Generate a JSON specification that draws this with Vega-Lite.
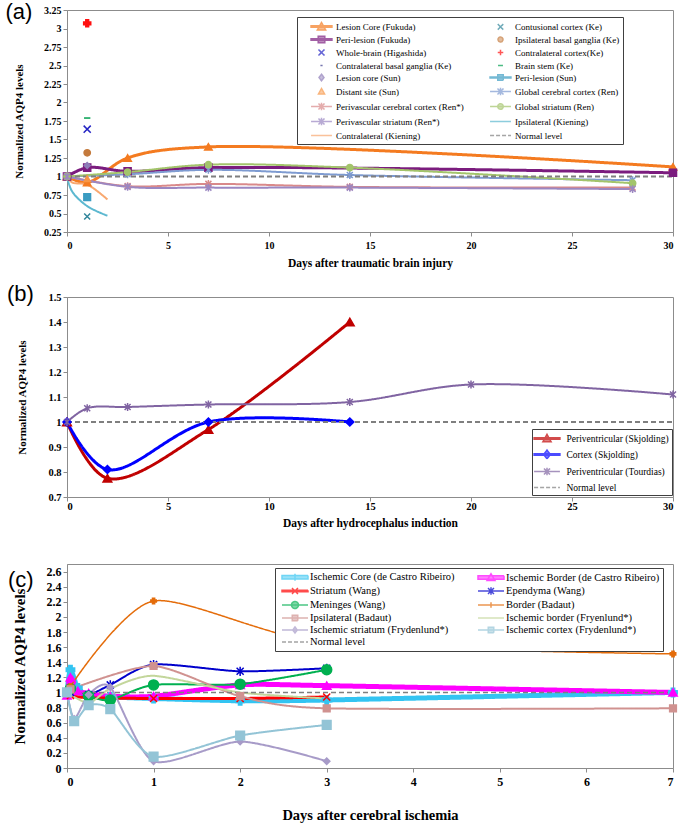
{
  "$schema": "https://vega.github.io/schema/vega-lite/v6.json",
  "padding": {"left": 5, "top": 0, "right": 4, "bottom": 2},
  "background": "white",
  "spacing": 13,
  "config": {
    "view": {"stroke": "#8c8c8c", "strokeWidth": 1},
    "axis": {"grid": false, "labelFont": "Liberation Serif", "titleFont": "Liberation Serif", "labelFontWeight": "bold", "titleFontWeight": "bold", "labelColor": "#000", "titleColor": "#000", "domainColor": "#8c8c8c", "tickColor": "#8c8c8c", "tickSize": 4, "labelPadding": 2},
    "legend": {"labelFont": "Liberation Serif", "labelColor": "#000", "strokeColor": "#404040", "fillColor": "#ffffff", "labelLimit": 400, "symbolStrokeWidth": 1.5},
    "title": {"font": "Liberation Sans", "fontSize": 22, "fontWeight": "normal", "anchor": "start", "frame": "bounds", "color": "#000"}
  },
  "datasets": {
    "a": [
      {"s": "Lesion Core (Fukuda)", "x": 0, "y": 1},
      {"s": "Lesion Core (Fukuda)", "x": 1, "y": 0.92},
      {"s": "Lesion Core (Fukuda)", "x": 3, "y": 1.25},
      {"s": "Lesion Core (Fukuda)", "x": 7, "y": 1.4},
      {"s": "Lesion Core (Fukuda)", "x": 30, "y": 1.13},
      {"s": "Peri-lesion (Fukuda)", "x": 0, "y": 1},
      {"s": "Peri-lesion (Fukuda)", "x": 1, "y": 1.12},
      {"s": "Peri-lesion (Fukuda)", "x": 3, "y": 1.07},
      {"s": "Peri-lesion (Fukuda)", "x": 7, "y": 1.12},
      {"s": "Peri-lesion (Fukuda)", "x": 30, "y": 1.05},
      {"s": "Contusional cortex (Ke)", "x": 1, "y": 0.46},
      {"s": "Ipsilateral basal ganglia (Ke)", "x": 1, "y": 1.32},
      {"s": "Whole-brain (Higashida)", "x": 1, "y": 1.64},
      {"s": "Contralateral cortex(Ke)", "x": 1, "y": 3.07},
      {"s": "Contralateral basal ganglia (Ke)", "x": 1, "y": 1.14},
      {"s": "Brain stem (Ke)", "x": 1, "y": 1.79},
      {"s": "Lesion core (Sun)", "x": 1, "y": 1.15},
      {"s": "Peri-lesion (Sun)", "x": 1, "y": 0.72},
      {"s": "Distant site (Sun)", "x": 1, "y": 0.97},
      {"s": "Global cerebral cortex (Ren)", "x": 0, "y": 1},
      {"s": "Global cerebral cortex (Ren)", "x": 3, "y": 1.03},
      {"s": "Global cerebral cortex (Ren)", "x": 7, "y": 1.09},
      {"s": "Global cerebral cortex (Ren)", "x": 14, "y": 1.02},
      {"s": "Global cerebral cortex (Ren)", "x": 28, "y": 0.95},
      {"s": "Perivascular cerebral cortex (Ren*)", "x": 0, "y": 1},
      {"s": "Perivascular cerebral cortex (Ren*)", "x": 3, "y": 0.87},
      {"s": "Perivascular cerebral cortex (Ren*)", "x": 7, "y": 0.9},
      {"s": "Perivascular cerebral cortex (Ren*)", "x": 14, "y": 0.86},
      {"s": "Perivascular cerebral cortex (Ren*)", "x": 28, "y": 0.85},
      {"s": "Global striatum (Ren)", "x": 0, "y": 1},
      {"s": "Global striatum (Ren)", "x": 3, "y": 1.06},
      {"s": "Global striatum (Ren)", "x": 7, "y": 1.16},
      {"s": "Global striatum (Ren)", "x": 14, "y": 1.12},
      {"s": "Global striatum (Ren)", "x": 28, "y": 0.91},
      {"s": "Perivascular striatum (Ren*)", "x": 0, "y": 1},
      {"s": "Perivascular striatum (Ren*)", "x": 3, "y": 0.86},
      {"s": "Perivascular striatum (Ren*)", "x": 7, "y": 0.85},
      {"s": "Perivascular striatum (Ren*)", "x": 14, "y": 0.85},
      {"s": "Perivascular striatum (Ren*)", "x": 28, "y": 0.83},
      {"s": "Ipsilateral (Kiening)", "x": 0, "y": 1},
      {"s": "Ipsilateral (Kiening)", "x": 0.25, "y": 0.8},
      {"s": "Ipsilateral (Kiening)", "x": 1, "y": 0.6},
      {"s": "Ipsilateral (Kiening)", "x": 2, "y": 0.47},
      {"s": "Contralateral (Kiening)", "x": 0, "y": 1},
      {"s": "Contralateral (Kiening)", "x": 0.25, "y": 0.92},
      {"s": "Contralateral (Kiening)", "x": 1, "y": 0.89},
      {"s": "Contralateral (Kiening)", "x": 2, "y": 0.69},
      {"s": "Normal level", "x": 0, "y": 1},
      {"s": "Normal level", "x": 30, "y": 1}
    ],
    "b": [
      {"s": "Periventricular (Skjolding)", "x": 0, "y": 1},
      {"s": "Periventricular (Skjolding)", "x": 2, "y": 0.775},
      {"s": "Periventricular (Skjolding)", "x": 7, "y": 0.97},
      {"s": "Periventricular (Skjolding)", "x": 14, "y": 1.4},
      {"s": "Cortex (Skjolding)", "x": 0, "y": 1},
      {"s": "Cortex (Skjolding)", "x": 2, "y": 0.81},
      {"s": "Cortex (Skjolding)", "x": 7, "y": 1.0},
      {"s": "Cortex (Skjolding)", "x": 14, "y": 1.0},
      {"s": "Periventricular (Tourdias)", "x": 0, "y": 1},
      {"s": "Periventricular (Tourdias)", "x": 1, "y": 1.055},
      {"s": "Periventricular (Tourdias)", "x": 3, "y": 1.06},
      {"s": "Periventricular (Tourdias)", "x": 7, "y": 1.07},
      {"s": "Periventricular (Tourdias)", "x": 14, "y": 1.08},
      {"s": "Periventricular (Tourdias)", "x": 20, "y": 1.15},
      {"s": "Periventricular (Tourdias)", "x": 30, "y": 1.11},
      {"s": "Normal level", "x": 0, "y": 1},
      {"s": "Normal level", "x": 30, "y": 1}
    ],
    "c": [
      {"s": "Ischemic Core (de Castro Ribeiro)", "x": 0, "y": 1.0},
      {"s": "Ischemic Core (de Castro Ribeiro)", "x": 0.04, "y": 1.3},
      {"s": "Ischemic Core (de Castro Ribeiro)", "x": 0.125, "y": 1.06},
      {"s": "Ischemic Core (de Castro Ribeiro)", "x": 0.25, "y": 0.96},
      {"s": "Ischemic Core (de Castro Ribeiro)", "x": 0.5, "y": 0.94},
      {"s": "Ischemic Core (de Castro Ribeiro)", "x": 1, "y": 0.92},
      {"s": "Ischemic Core (de Castro Ribeiro)", "x": 2, "y": 0.89},
      {"s": "Ischemic Core (de Castro Ribeiro)", "x": 3, "y": 0.9},
      {"s": "Ischemic Core (de Castro Ribeiro)", "x": 7, "y": 1.0},
      {"s": "Ischemic Border (de Castro Ribeiro)", "x": 0, "y": 0.96},
      {"s": "Ischemic Border (de Castro Ribeiro)", "x": 0.04, "y": 1.2},
      {"s": "Ischemic Border (de Castro Ribeiro)", "x": 0.125, "y": 1.02},
      {"s": "Ischemic Border (de Castro Ribeiro)", "x": 0.25, "y": 0.99},
      {"s": "Ischemic Border (de Castro Ribeiro)", "x": 0.5, "y": 0.95},
      {"s": "Ischemic Border (de Castro Ribeiro)", "x": 1, "y": 0.95},
      {"s": "Ischemic Border (de Castro Ribeiro)", "x": 2, "y": 1.1},
      {"s": "Ischemic Border (de Castro Ribeiro)", "x": 3, "y": 1.09},
      {"s": "Ischemic Border (de Castro Ribeiro)", "x": 7, "y": 1.0},
      {"s": "Striatum (Wang)", "x": 0.04, "y": 0.96},
      {"s": "Striatum (Wang)", "x": 0.25, "y": 0.93},
      {"s": "Striatum (Wang)", "x": 1, "y": 0.92},
      {"s": "Striatum (Wang)", "x": 2, "y": 0.92},
      {"s": "Striatum (Wang)", "x": 3, "y": 0.94},
      {"s": "Ependyma (Wang)", "x": 0.04, "y": 1.0},
      {"s": "Ependyma (Wang)", "x": 0.25, "y": 0.97},
      {"s": "Ependyma (Wang)", "x": 0.5, "y": 1.1},
      {"s": "Ependyma (Wang)", "x": 1, "y": 1.37},
      {"s": "Ependyma (Wang)", "x": 2, "y": 1.28},
      {"s": "Ependyma (Wang)", "x": 3, "y": 1.32},
      {"s": "Meninges (Wang)", "x": 0.04, "y": 1.05},
      {"s": "Meninges (Wang)", "x": 0.25, "y": 0.95},
      {"s": "Meninges (Wang)", "x": 0.5, "y": 0.9},
      {"s": "Meninges (Wang)", "x": 1, "y": 1.1},
      {"s": "Meninges (Wang)", "x": 2, "y": 1.11},
      {"s": "Meninges (Wang)", "x": 3, "y": 1.3},
      {"s": "Border (Badaut)", "x": 0.04, "y": 1.08},
      {"s": "Border (Badaut)", "x": 1, "y": 2.21},
      {"s": "Border (Badaut)", "x": 3, "y": 1.65},
      {"s": "Border (Badaut)", "x": 7, "y": 1.51},
      {"s": "Ipsilateral (Badaut)", "x": 0.04, "y": 1.04},
      {"s": "Ipsilateral (Badaut)", "x": 1, "y": 1.35},
      {"s": "Ipsilateral (Badaut)", "x": 2, "y": 0.95},
      {"s": "Ipsilateral (Badaut)", "x": 3, "y": 0.79},
      {"s": "Ipsilateral (Badaut)", "x": 7, "y": 0.79},
      {"s": "Ischemic border (Fryenlund*)", "x": 0, "y": 1},
      {"s": "Ischemic border (Fryenlund*)", "x": 0.25, "y": 0.86},
      {"s": "Ischemic border (Fryenlund*)", "x": 0.5, "y": 1.05},
      {"s": "Ischemic border (Fryenlund*)", "x": 1, "y": 1.22},
      {"s": "Ischemic border (Fryenlund*)", "x": 2, "y": 1.0},
      {"s": "Ischemic border (Fryenlund*)", "x": 3, "y": 0.92},
      {"s": "Ischemic striatum (Frydenlund*)", "x": 0, "y": 1},
      {"s": "Ischemic striatum (Frydenlund*)", "x": 0.083, "y": 0.65},
      {"s": "Ischemic striatum (Frydenlund*)", "x": 0.25, "y": 0.97},
      {"s": "Ischemic striatum (Frydenlund*)", "x": 0.5, "y": 1.07},
      {"s": "Ischemic striatum (Frydenlund*)", "x": 1, "y": 0.09},
      {"s": "Ischemic striatum (Frydenlund*)", "x": 2, "y": 0.35},
      {"s": "Ischemic striatum (Frydenlund*)", "x": 3, "y": 0.09},
      {"s": "Ischemic cortex (Frydenlund*)", "x": 0, "y": 1},
      {"s": "Ischemic cortex (Frydenlund*)", "x": 0.083, "y": 0.62},
      {"s": "Ischemic cortex (Frydenlund*)", "x": 0.25, "y": 0.83},
      {"s": "Ischemic cortex (Frydenlund*)", "x": 0.5, "y": 0.78},
      {"s": "Ischemic cortex (Frydenlund*)", "x": 1, "y": 0.15},
      {"s": "Ischemic cortex (Frydenlund*)", "x": 2, "y": 0.43},
      {"s": "Ischemic cortex (Frydenlund*)", "x": 3, "y": 0.57},
      {"s": "Normal level", "x": 0, "y": 1},
      {"s": "Normal level", "x": 7, "y": 1}
    ]
  },
  "vconcat": [
    {
      "width": 606, "height": 222,
      "title": {"text": "(a)", "offset": -19, "dx": -8},
      "data": {"name": "a"},
      "resolve": {"scale": {"stroke": "independent", "fill": "independent", "shape": "independent", "size": "independent", "strokeWidth": "independent", "strokeDash": "independent"}},
      "encoding": {
        "x": {"field": "x", "type": "quantitative", "scale": {"domain": [0, 30], "nice": false, "zero": false},
              "axis": {"values": [0, 5, 10, 15, 20, 25, 30], "title": "Days after traumatic brain injury", "labelFontSize": 10, "titleFontSize": 11.5, "labelPadding": 4, "titlePadding": 7}},
        "y": {"field": "y", "type": "quantitative", "scale": {"domain": [0.25, 3.25], "nice": false, "zero": false},
              "axis": {"values": [0.25, 0.5, 0.75, 1, 1.25, 1.5, 1.75, 2, 2.25, 2.5, 2.75, 3, 3.25], "labelExpr": "'' + datum.value", "title": "Normalized AQP4 levels", "labelFontSize": 10, "titleFontSize": 11, "titlePadding": 19}}
      },
      "layer": [
        {
          "transform": [{"filter": {"field": "s", "oneOf": ["Lesion Core (Fukuda)", "Peri-lesion (Fukuda)", "Global cerebral cortex (Ren)", "Perivascular cerebral cortex (Ren*)", "Global striatum (Ren)", "Perivascular striatum (Ren*)", "Ipsilateral (Kiening)", "Contralateral (Kiening)", "Normal level"]}}],
          "mark": {"type": "line", "interpolate": "catmull-rom"},
          "encoding": {
            "stroke": {"field": "s", "type": "nominal", "legend": null, "scale": {"domain": ["Lesion Core (Fukuda)", "Peri-lesion (Fukuda)", "Global cerebral cortex (Ren)", "Perivascular cerebral cortex (Ren*)", "Global striatum (Ren)", "Perivascular striatum (Ren*)", "Ipsilateral (Kiening)", "Contralateral (Kiening)", "Normal level"], "range": ["#F47B20", "#7B1C7E", "#7E9BD1", "#D9898A", "#A3C46B", "#9B87C2", "#5CB8D0", "#F8A870", "#7F7F7F"]}},
            "strokeWidth": {"field": "s", "type": "nominal", "legend": null, "scale": {"type": "ordinal", "domain": ["Lesion Core (Fukuda)", "Peri-lesion (Fukuda)", "Global cerebral cortex (Ren)", "Perivascular cerebral cortex (Ren*)", "Global striatum (Ren)", "Perivascular striatum (Ren*)", "Ipsilateral (Kiening)", "Contralateral (Kiening)", "Normal level"], "range": [3, 3, 2, 2, 2, 2, 2, 2, 2]}},
            "strokeDash": {"field": "s", "type": "nominal", "legend": null, "scale": {"domain": ["Lesion Core (Fukuda)", "Peri-lesion (Fukuda)", "Global cerebral cortex (Ren)", "Perivascular cerebral cortex (Ren*)", "Global striatum (Ren)", "Perivascular striatum (Ren*)", "Ipsilateral (Kiening)", "Contralateral (Kiening)", "Normal level"], "range": [[1, 0], [1, 0], [1, 0], [1, 0], [1, 0], [1, 0], [1, 0], [1, 0], [5, 3]]}}
          }
        },
        {
          "transform": [{"filter": {"field": "s", "oneOf": ["Lesion Core (Fukuda)", "Peri-lesion (Fukuda)", "Whole-brain (Higashida)", "Contralateral basal ganglia (Ke)", "Lesion core (Sun)", "Distant site (Sun)", "Perivascular cerebral cortex (Ren*)", "Perivascular striatum (Ren*)", "Contusional cortex (Ke)", "Ipsilateral basal ganglia (Ke)", "Contralateral cortex(Ke)", "Brain stem (Ke)", "Peri-lesion (Sun)", "Global cerebral cortex (Ren)", "Global striatum (Ren)"]}}],
          "mark": {"type": "point", "filled": true, "strokeWidth": 1.5, "opacity": 1},
          "encoding": {
            "fill": {"field": "s", "type": "nominal", "legend": null, "scale": {"domain": ["Lesion Core (Fukuda)", "Peri-lesion (Fukuda)", "Whole-brain (Higashida)", "Contralateral basal ganglia (Ke)", "Lesion core (Sun)", "Distant site (Sun)", "Perivascular cerebral cortex (Ren*)", "Perivascular striatum (Ren*)", "Contusional cortex (Ke)", "Ipsilateral basal ganglia (Ke)", "Contralateral cortex(Ke)", "Brain stem (Ke)", "Peri-lesion (Sun)", "Global cerebral cortex (Ren)", "Global striatum (Ren)"], "range": ["#F47B20", "#7B1C7E", "#2424C4", "#3C3C8C", "#8E7CB8", "#F79646", "#D9898A", "#9B87C2", "#31869B", "#C47A3C", "#FF1010", "#00A050", "#3B9CC2", "#7E9BD1", "#A3C46B"]}},
            "stroke": {"field": "s", "type": "nominal", "legend": null, "scale": {"domain": ["Lesion Core (Fukuda)", "Peri-lesion (Fukuda)", "Whole-brain (Higashida)", "Contralateral basal ganglia (Ke)", "Lesion core (Sun)", "Distant site (Sun)", "Perivascular cerebral cortex (Ren*)", "Perivascular striatum (Ren*)", "Contusional cortex (Ke)", "Ipsilateral basal ganglia (Ke)", "Contralateral cortex(Ke)", "Brain stem (Ke)", "Peri-lesion (Sun)", "Global cerebral cortex (Ren)", "Global striatum (Ren)"], "range": ["#F47B20", "#7B1C7E", "#2424C4", "#3C3C8C", "#8E7CB8", "#F79646", "#D9898A", "#9B87C2", "#31869B", "#C47A3C", "#FF1010", "#00A050", "#3B9CC2", "#7E9BD1", "#A3C46B"]}},
            "shape": {"field": "s", "type": "nominal", "legend": null, "scale": {"domain": ["Lesion Core (Fukuda)", "Peri-lesion (Fukuda)", "Whole-brain (Higashida)", "Contralateral basal ganglia (Ke)", "Lesion core (Sun)", "Distant site (Sun)", "Perivascular cerebral cortex (Ren*)", "Perivascular striatum (Ren*)", "Contusional cortex (Ke)", "Ipsilateral basal ganglia (Ke)", "Contralateral cortex(Ke)", "Brain stem (Ke)", "Peri-lesion (Sun)", "Global cerebral cortex (Ren)", "Global striatum (Ren)"], "range": ["triangle-up", "square", "M-1,-1L1,1M-1,1L1,-1", "M-1,0H1", "diamond", "triangle-up", "M-1,-1L1,1M-1,1L1,-1M0,-1.3V1.3", "M-1,-1L1,1M-1,1L1,-1M0,-1.3V1.3", "M-1,-1L1,1M-1,1L1,-1", "circle", "cross", "M-1,0H1", "square", "M-1,-1L1,1M-1,1L1,-1M0,-1.3V1.3", "circle"]}},
            "size": {"field": "s", "type": "nominal", "legend": null, "scale": {"type": "ordinal", "domain": ["Lesion Core (Fukuda)", "Peri-lesion (Fukuda)", "Whole-brain (Higashida)", "Contralateral basal ganglia (Ke)", "Lesion core (Sun)", "Distant site (Sun)", "Perivascular cerebral cortex (Ren*)", "Perivascular striatum (Ren*)", "Contusional cortex (Ke)", "Ipsilateral basal ganglia (Ke)", "Contralateral cortex(Ke)", "Brain stem (Ke)", "Peri-lesion (Sun)", "Global cerebral cortex (Ren)", "Global striatum (Ren)"], "range": [55, 50, 50, 16, 35, 40, 36, 36, 36, 40, 50, 40, 45, 36, 40]}}
          }
        },
        {
          "transform": [{"filter": "false"}],
          "mark": {"type": "point", "filled": true, "size": 121, "strokeWidth": 1.5},
          "encoding": {
            "fill": {"field": "s", "type": "nominal", "scale": {"domain": ["Lesion Core (Fukuda)", "Peri-lesion (Fukuda)", "Whole-brain (Higashida)", "Contralateral basal ganglia (Ke)", "Lesion core (Sun)", "Distant site (Sun)", "Perivascular cerebral cortex (Ren*)", "Perivascular striatum (Ren*)", "Contralateral (Kiening)", "Contusional cortex (Ke)", "Ipsilateral basal ganglia (Ke)", "Contralateral cortex(Ke)", "Brain stem (Ke)", "Peri-lesion (Sun)", "Global cerebral cortex (Ren)", "Global striatum (Ren)", "Ipsilateral (Kiening)", "Normal level"], "range": ["#F47B20", "#7B1C7E", "#2424C4", "#3C3C8C", "#8E7CB8", "#F79646", "#D9898A", "#9B87C2", "#F8A870", "#31869B", "#C47A3C", "#FF1010", "#00A050", "#3B9CC2", "#7E9BD1", "#A3C46B", "#5CB8D0", "#7F7F7F"]}},
            "stroke": {"field": "s", "type": "nominal", "scale": {"domain": ["Lesion Core (Fukuda)", "Peri-lesion (Fukuda)", "Whole-brain (Higashida)", "Contralateral basal ganglia (Ke)", "Lesion core (Sun)", "Distant site (Sun)", "Perivascular cerebral cortex (Ren*)", "Perivascular striatum (Ren*)", "Contralateral (Kiening)", "Contusional cortex (Ke)", "Ipsilateral basal ganglia (Ke)", "Contralateral cortex(Ke)", "Brain stem (Ke)", "Peri-lesion (Sun)", "Global cerebral cortex (Ren)", "Global striatum (Ren)", "Ipsilateral (Kiening)", "Normal level"], "range": ["#F47B20", "#7B1C7E", "#2424C4", "#3C3C8C", "#8E7CB8", "#F79646", "#D9898A", "#9B87C2", "#F8A870", "#31869B", "#C47A3C", "#FF1010", "#00A050", "#3B9CC2", "#7E9BD1", "#A3C46B", "#5CB8D0", "#7F7F7F"]}},
            "strokeDash": {"field": "s", "type": "nominal", "scale": {"domain": ["Lesion Core (Fukuda)", "Peri-lesion (Fukuda)", "Whole-brain (Higashida)", "Contralateral basal ganglia (Ke)", "Lesion core (Sun)", "Distant site (Sun)", "Perivascular cerebral cortex (Ren*)", "Perivascular striatum (Ren*)", "Contralateral (Kiening)", "Contusional cortex (Ke)", "Ipsilateral basal ganglia (Ke)", "Contralateral cortex(Ke)", "Brain stem (Ke)", "Peri-lesion (Sun)", "Global cerebral cortex (Ren)", "Global striatum (Ren)", "Ipsilateral (Kiening)", "Normal level"], "range": [[1, 0], [1, 0], [1, 0], [1, 0], [1, 0], [1, 0], [1, 0], [1, 0], [1, 0], [1, 0], [1, 0], [1, 0], [1, 0], [1, 0], [1, 0], [1, 0], [1, 0], [4, 2]]}},
            "shape": {"field": "s", "type": "nominal",
                      "scale": {"domain": ["Lesion Core (Fukuda)", "Peri-lesion (Fukuda)", "Whole-brain (Higashida)", "Contralateral basal ganglia (Ke)", "Lesion core (Sun)", "Distant site (Sun)", "Perivascular cerebral cortex (Ren*)", "Perivascular striatum (Ren*)", "Contralateral (Kiening)", "Contusional cortex (Ke)", "Ipsilateral basal ganglia (Ke)", "Contralateral cortex(Ke)", "Brain stem (Ke)", "Peri-lesion (Sun)", "Global cerebral cortex (Ren)", "Global striatum (Ren)", "Ipsilateral (Kiening)", "Normal level"],
                                "range": ["M-1.9,-0.14H1.9V0.14H-1.9ZM0,-0.75L0.75,0.6H-0.75Z", "M-1.9,-0.14H1.9V0.14H-1.9ZM-0.6,-0.6H0.6V0.6H-0.6Z", "M-0.55,-0.55L0.55,0.55M-0.55,0.55L0.55,-0.55", "M-0.2,0H0.2", "M0,-0.6L0.45,0L0,0.6L-0.45,0Z", "M0,-0.55L0.55,0.45H-0.55Z", "M-1.9,0H1.9M-0.55,-0.55L0.55,0.55M-0.55,0.55L0.55,-0.55M0,-0.7V0.7", "M-1.9,0H1.9M-0.55,-0.55L0.55,0.55M-0.55,0.55L0.55,-0.55M0,-0.7V0.7", "M-1.9,0H1.9", "M-0.5,-0.5L0.5,0.5M-0.5,0.5L0.5,-0.5", "M0.45,0A0.45,0.45,0,1,1,-0.45,0A0.45,0.45,0,1,1,0.45,0Z", "M-0.5,0H0.5M0,-0.5V0.5", "M-0.45,0H0.45", "M-1.9,-0.08H1.9V0.08H-1.9ZM-0.5,-0.5H0.5V0.5H-0.5Z", "M-1.9,0H1.9M-0.55,-0.55L0.55,0.55M-0.55,0.55L0.55,-0.55M0,-0.7V0.7", "M-1.9,0H1.9M0.5,0A0.5,0.5,0,1,1,-0.5,0A0.5,0.5,0,1,1,0.5,0Z", "M-1.9,0H1.9", "M-1.9,0H1.9"]},
                      "legend": {"title": null, "orient": "none", "legendX": 230, "legendY": 7, "direction": "vertical", "columns": 2, "columnPadding": 15, "rowPadding": 0, "padding": 3, "symbolSize": 121, "symbolOffset": 15, "labelOffset": 8, "labelFontSize": 9}}
          }
        }
      ]
    },
    {
      "width": 606, "height": 200,
      "title": {"text": "(b)", "offset": -14, "dx": -10},
      "data": {"name": "b"},
      "resolve": {"scale": {"stroke": "independent", "fill": "independent", "shape": "independent", "size": "independent", "strokeWidth": "independent", "strokeDash": "independent"}},
      "encoding": {
        "x": {"field": "x", "type": "quantitative", "scale": {"domain": [0, 30], "nice": false, "zero": false},
              "axis": {"values": [0, 5, 10, 15, 20, 25, 30], "title": ["Days after hydrocephalus induction", ""], "titleLineHeight": 20, "labelFontSize": 10.5, "titleFontSize": 11.5, "labelPadding": 0, "titlePadding": 6}},
        "y": {"field": "y", "type": "quantitative", "scale": {"domain": [0.7, 1.5], "nice": false, "zero": false},
              "axis": {"values": [0.7, 0.8, 0.9, 1, 1.1, 1.2, 1.3, 1.4, 1.5], "labelExpr": "'' + datum.value", "title": "Normalized AQP4 levels", "labelFontSize": 10.5, "titleFontSize": 11, "titlePadding": 20}}
      },
      "layer": [
        {
          "mark": {"type": "line", "interpolate": "catmull-rom"},
          "encoding": {
            "stroke": {"field": "s", "type": "nominal", "legend": null, "scale": {"domain": ["Periventricular (Skjolding)", "Cortex (Skjolding)", "Periventricular (Tourdias)", "Normal level"], "range": ["#C00000", "#0000FF", "#8064A2", "#7F7F7F"]}},
            "strokeWidth": {"field": "s", "type": "nominal", "legend": null, "scale": {"type": "ordinal", "domain": ["Periventricular (Skjolding)", "Cortex (Skjolding)", "Periventricular (Tourdias)", "Normal level"], "range": [3, 3, 2, 2]}},
            "strokeDash": {"field": "s", "type": "nominal", "legend": null, "scale": {"domain": ["Periventricular (Skjolding)", "Cortex (Skjolding)", "Periventricular (Tourdias)", "Normal level"], "range": [[1, 0], [1, 0], [1, 0], [5, 3]]}}
          }
        },
        {
          "transform": [{"filter": {"field": "s", "oneOf": ["Periventricular (Skjolding)", "Cortex (Skjolding)", "Periventricular (Tourdias)"]}}],
          "mark": {"type": "point", "filled": true, "strokeWidth": 1.5, "opacity": 1},
          "encoding": {
            "fill": {"field": "s", "type": "nominal", "legend": null, "scale": {"domain": ["Periventricular (Skjolding)", "Cortex (Skjolding)", "Periventricular (Tourdias)"], "range": ["#C00000", "#0000FF", "#8064A2"]}},
            "stroke": {"field": "s", "type": "nominal", "legend": null, "scale": {"domain": ["Periventricular (Skjolding)", "Cortex (Skjolding)", "Periventricular (Tourdias)"], "range": ["#C00000", "#0000FF", "#8064A2"]}},
            "shape": {"field": "s", "type": "nominal", "legend": null, "scale": {"domain": ["Periventricular (Skjolding)", "Cortex (Skjolding)", "Periventricular (Tourdias)"], "range": ["triangle-up", "diamond", "M-1,-1L1,1M-1,1L1,-1M0,-1.3V1.3"]}},
            "size": {"field": "s", "type": "nominal", "legend": null, "scale": {"type": "ordinal", "domain": ["Periventricular (Skjolding)", "Cortex (Skjolding)", "Periventricular (Tourdias)"], "range": [75, 65, 36]}}
          }
        },
        {
          "transform": [{"filter": "false"}],
          "mark": {"type": "point", "filled": true, "size": 121, "strokeWidth": 1.5},
          "encoding": {
            "fill": {"field": "s", "type": "nominal", "scale": {"domain": ["Periventricular (Skjolding)", "Cortex (Skjolding)", "Periventricular (Tourdias)", "Normal level"], "range": ["#C00000", "#0000FF", "#8064A2", "#7F7F7F"]}},
            "stroke": {"field": "s", "type": "nominal", "scale": {"domain": ["Periventricular (Skjolding)", "Cortex (Skjolding)", "Periventricular (Tourdias)", "Normal level"], "range": ["#C00000", "#0000FF", "#8064A2", "#7F7F7F"]}},
            "strokeDash": {"field": "s", "type": "nominal", "scale": {"domain": ["Periventricular (Skjolding)", "Cortex (Skjolding)", "Periventricular (Tourdias)", "Normal level"], "range": [[1, 0], [1, 0], [1, 0], [4, 2]]}},
            "shape": {"field": "s", "type": "nominal",
                      "scale": {"domain": ["Periventricular (Skjolding)", "Cortex (Skjolding)", "Periventricular (Tourdias)", "Normal level"], "range": ["M-2.35,-0.14H2.35V0.14H-2.35ZM0,-0.75L0.75,0.6H-0.75Z", "M-2.35,-0.14H2.35V0.14H-2.35ZM0,-0.8L0.6,0L0,0.8L-0.6,0Z", "M-2.35,0H2.35M-0.55,-0.55L0.55,0.55M-0.55,0.55L0.55,-0.55M0,-0.7V0.7", "M-2.35,0H2.35"]},
                      "legend": {"title": null, "orient": "none", "legendX": 465, "legendY": 132, "direction": "vertical", "columns": 1, "rowPadding": 2, "padding": 3, "symbolSize": 121, "symbolOffset": 5.5, "labelOffset": 13, "labelFontSize": 9.5}}
          }
        }
      ]
    },
    {
      "width": 606, "height": 204,
      "title": {"text": "(c)", "offset": -28, "dx": -4},
      "data": {"name": "c"},
      "resolve": {"scale": {"stroke": "independent", "fill": "independent", "shape": "independent", "size": "independent", "strokeWidth": "independent", "strokeDash": "independent"}},
      "encoding": {
        "x": {"field": "x", "type": "quantitative", "scale": {"domain": [0, 7], "nice": false, "zero": false},
              "axis": {"values": [0, 1, 2, 3, 4, 5, 6, 7], "title": "Days after cerebral ischemia", "labelFontSize": 12, "titleFontSize": 14.5, "labelPadding": 4, "titlePadding": 21}},
        "y": {"field": "y", "type": "quantitative", "scale": {"domain": [0, 2.7], "nice": false, "zero": false},
              "axis": {"values": [0, 0.2, 0.4, 0.6, 0.8, 1, 1.2, 1.4, 1.6, 1.8, 2, 2.2, 2.4, 2.6], "labelExpr": "'' + datum.value", "title": "Normalized AQP4 levels", "labelFontSize": 12, "titleFontSize": 15, "titlePadding": 19}}
      },
      "layer": [
        {
          "mark": {"type": "line", "interpolate": "cardinal", "tension": 0.3},
          "encoding": {
            "stroke": {"field": "s", "type": "nominal", "legend": null, "scale": {"domain": ["Ischemic Core (de Castro Ribeiro)", "Striatum (Wang)", "Meninges (Wang)", "Ipsilateral (Badaut)", "Ischemic striatum (Frydenlund*)", "Normal level", "Ischemic Border (de Castro Ribeiro)", "Ependyma (Wang)", "Border (Badaut)", "Ischemic border (Fryenlund*)", "Ischemic cortex (Frydenlund*)"], "range": ["#33C4F2", "#FF0000", "#00B050", "#D09290", "#A79BC8", "#7F7F7F", "#FF00FF", "#0000CC", "#E46C0A", "#C3D69B", "#93C4D6"]}},
            "strokeWidth": {"field": "s", "type": "nominal", "legend": null, "scale": {"type": "ordinal", "domain": ["Ischemic Core (de Castro Ribeiro)", "Striatum (Wang)", "Meninges (Wang)", "Ipsilateral (Badaut)", "Ischemic striatum (Frydenlund*)", "Normal level", "Ischemic Border (de Castro Ribeiro)", "Ependyma (Wang)", "Border (Badaut)", "Ischemic border (Fryenlund*)", "Ischemic cortex (Frydenlund*)"], "range": [5, 3, 2, 2, 2, 1.5, 5, 2, 1.5, 2, 2]}},
            "strokeDash": {"field": "s", "type": "nominal", "legend": null, "scale": {"domain": ["Ischemic Core (de Castro Ribeiro)", "Striatum (Wang)", "Meninges (Wang)", "Ipsilateral (Badaut)", "Ischemic striatum (Frydenlund*)", "Normal level", "Ischemic Border (de Castro Ribeiro)", "Ependyma (Wang)", "Border (Badaut)", "Ischemic border (Fryenlund*)", "Ischemic cortex (Frydenlund*)"], "range": [[1, 0], [1, 0], [1, 0], [1, 0], [1, 0], [5, 3], [1, 0], [1, 0], [1, 0], [1, 0], [1, 0]]}}
          }
        },
        {
          "transform": [{"filter": {"field": "s", "oneOf": ["Ischemic Core (de Castro Ribeiro)", "Striatum (Wang)", "Meninges (Wang)", "Ipsilateral (Badaut)", "Ischemic striatum (Frydenlund*)", "Ischemic Border (de Castro Ribeiro)", "Ependyma (Wang)", "Border (Badaut)", "Ischemic cortex (Frydenlund*)"]}}],
          "mark": {"type": "point", "filled": true, "strokeWidth": 1.5, "opacity": 1},
          "encoding": {
            "fill": {"field": "s", "type": "nominal", "legend": null, "scale": {"domain": ["Ischemic Core (de Castro Ribeiro)", "Striatum (Wang)", "Meninges (Wang)", "Ipsilateral (Badaut)", "Ischemic striatum (Frydenlund*)", "Ischemic Border (de Castro Ribeiro)", "Ependyma (Wang)", "Border (Badaut)", "Ischemic cortex (Frydenlund*)"], "range": ["#33C4F2", "#FF0000", "#00B050", "#D09290", "#A79BC8", "#FF00FF", "#0000CC", "#E46C0A", "#93C4D6"]}},
            "stroke": {"field": "s", "type": "nominal", "legend": null, "scale": {"domain": ["Ischemic Core (de Castro Ribeiro)", "Striatum (Wang)", "Meninges (Wang)", "Ipsilateral (Badaut)", "Ischemic striatum (Frydenlund*)", "Ischemic Border (de Castro Ribeiro)", "Ependyma (Wang)", "Border (Badaut)", "Ischemic cortex (Frydenlund*)"], "range": ["#33C4F2", "#FF0000", "#00B050", "#D09290", "#A79BC8", "#FF00FF", "#0000CC", "#E46C0A", "#93C4D6"]}},
            "shape": {"field": "s", "type": "nominal", "legend": null, "scale": {"domain": ["Ischemic Core (de Castro Ribeiro)", "Striatum (Wang)", "Meninges (Wang)", "Ipsilateral (Badaut)", "Ischemic striatum (Frydenlund*)", "Ischemic Border (de Castro Ribeiro)", "Ependyma (Wang)", "Border (Badaut)", "Ischemic cortex (Frydenlund*)"], "range": ["cross", "M-1,-1L1,1M-1,1L1,-1", "circle", "square", "diamond", "triangle-up", "M-1,-1L1,1M-1,1L1,-1M0,-1.3V1.3", "cross", "square"]}},
            "size": {"field": "s", "type": "nominal", "legend": null, "scale": {"type": "ordinal", "domain": ["Ischemic Core (de Castro Ribeiro)", "Striatum (Wang)", "Meninges (Wang)", "Ipsilateral (Badaut)", "Ischemic striatum (Frydenlund*)", "Ischemic Border (de Castro Ribeiro)", "Ependyma (Wang)", "Border (Badaut)", "Ischemic cortex (Frydenlund*)"], "range": [70, 50, 100, 45, 40, 70, 50, 30, 75]}}
          }
        },
        {
          "transform": [{"filter": "false"}],
          "mark": {"type": "point", "filled": true, "size": 100, "strokeWidth": 1.5},
          "encoding": {
            "fill": {"field": "s", "type": "nominal", "scale": {"domain": ["Ischemic Core (de Castro Ribeiro)", "Striatum (Wang)", "Meninges (Wang)", "Ipsilateral (Badaut)", "Ischemic striatum (Frydenlund*)", "Normal level", "Ischemic Border (de Castro Ribeiro)", "Ependyma (Wang)", "Border (Badaut)", "Ischemic border (Fryenlund*)", "Ischemic cortex (Frydenlund*)"], "range": ["#33C4F2", "#FF0000", "#00B050", "#D09290", "#A79BC8", "#7F7F7F", "#FF00FF", "#0000CC", "#E46C0A", "#C3D69B", "#93C4D6"]}},
            "stroke": {"field": "s", "type": "nominal", "scale": {"domain": ["Ischemic Core (de Castro Ribeiro)", "Striatum (Wang)", "Meninges (Wang)", "Ipsilateral (Badaut)", "Ischemic striatum (Frydenlund*)", "Normal level", "Ischemic Border (de Castro Ribeiro)", "Ependyma (Wang)", "Border (Badaut)", "Ischemic border (Fryenlund*)", "Ischemic cortex (Frydenlund*)"], "range": ["#33C4F2", "#FF0000", "#00B050", "#D09290", "#A79BC8", "#7F7F7F", "#FF00FF", "#0000CC", "#E46C0A", "#C3D69B", "#93C4D6"]}},
            "strokeDash": {"field": "s", "type": "nominal", "scale": {"domain": ["Ischemic Core (de Castro Ribeiro)", "Striatum (Wang)", "Meninges (Wang)", "Ipsilateral (Badaut)", "Ischemic striatum (Frydenlund*)", "Normal level", "Ischemic Border (de Castro Ribeiro)", "Ependyma (Wang)", "Border (Badaut)", "Ischemic border (Fryenlund*)", "Ischemic cortex (Frydenlund*)"], "range": [[1, 0], [1, 0], [1, 0], [1, 0], [1, 0], [4, 2], [1, 0], [1, 0], [1, 0], [1, 0], [1, 0]]}},
            "shape": {"field": "s", "type": "nominal",
                      "scale": {"domain": ["Ischemic Core (de Castro Ribeiro)", "Striatum (Wang)", "Meninges (Wang)", "Ipsilateral (Badaut)", "Ischemic striatum (Frydenlund*)", "Normal level", "Ischemic Border (de Castro Ribeiro)", "Ependyma (Wang)", "Border (Badaut)", "Ischemic border (Fryenlund*)", "Ischemic cortex (Frydenlund*)"],
                                "range": ["M-2.6,-0.35H2.6V0.35H-2.6ZM0,-0.7V0.7", "M-2.6,-0.15H2.6V0.15H-2.6ZM-0.6,-0.6L0.6,0.6M-0.6,0.6L0.6,-0.6", "M-2.6,0H2.6M0.7,0A0.7,0.7,0,1,1,-0.7,0A0.7,0.7,0,1,1,0.7,0Z", "M-2.6,0H2.6M-0.55,-0.55H0.55V0.55H-0.55Z", "M-2.6,0H2.6M0,-0.6L0.45,0L0,0.6L-0.45,0Z", "M-2.6,0H2.6", "M-2.6,-0.35H2.6V0.35H-2.6ZM0,-0.75L0.8,0.6H-0.8Z", "M-2.6,0H2.6M-0.6,-0.6L0.6,0.6M-0.6,0.6L0.6,-0.6M0,-0.75V0.75", "M-2.6,0H2.6M0,-0.55V0.55", "M-2.6,0H2.6", "M-2.6,0H2.6M-0.55,-0.55H0.55V0.55H-0.55Z"]},
                      "legend": {"title": null, "orient": "none", "legendX": 208, "legendY": 4, "direction": "vertical", "columns": 2, "columnPadding": 19, "rowPadding": 0, "padding": 3, "symbolSize": 100, "symbolOffset": 11, "labelOffset": 9, "labelFontSize": 10.5}}
          }
        }
      ]
    }
  ]
}
